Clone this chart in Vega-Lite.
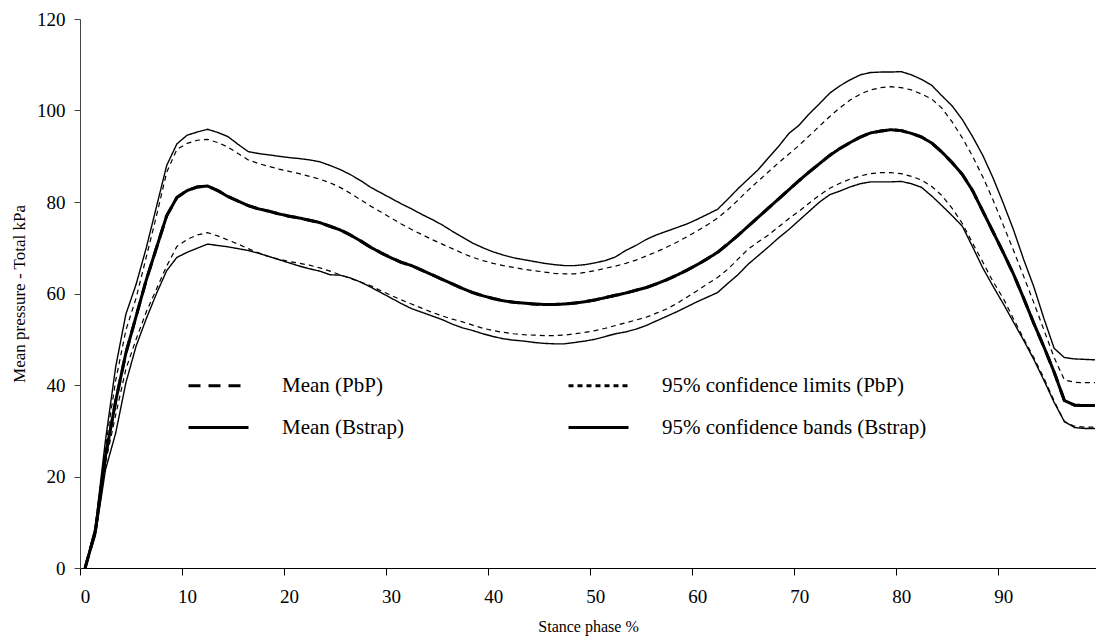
{
"$schema": "https://vega.github.io/schema/vega-lite/v6.json",
"width": 1016, "height": 549,
"autosize": {"type": "none"},
"padding": {"left": 80, "top": 19, "right": 0, "bottom": 74},
"background": "white",
"config": {"font": "Liberation Serif", "view": {"stroke": null},
  "style": {"guide-label": {"font": "Liberation Serif"}, "guide-title": {"font": "Liberation Serif"}},
  "legend": {"labelFont": "Liberation Serif", "titleFont": "Liberation Serif"},
  "axis": {"grid": false, "labelColor": "#000", "titleColor": "#000", "titleFontWeight": "normal", "labelFont": "Liberation Serif", "titleFont": "Liberation Serif"}},
"data": {"values": [
{"p":0,"ub":0,"up":0,"m":0,"mp":0,"lp":0,"lb":0},
{"p":1,"ub":9,"up":8.5,"m":8,"mp":8,"lp":7.5,"lb":7},
{"p":2,"ub":28,"up":26.5,"m":24.5,"mp":24.5,"lp":23,"lb":21.5},
{"p":3,"ub":44,"up":41,"m":36.5,"mp":36.5,"lp":33.5,"lb":29.5},
{"p":4,"ub":55.5,"up":52,"m":47,"mp":47,"lp":43.5,"lb":40.5},
{"p":5,"ub":62,"up":59,"m":55,"mp":55,"lp":50,"lb":48.5},
{"p":6,"ub":70,"up":68,"m":63,"mp":63,"lp":56,"lb":54.5},
{"p":7,"ub":79,"up":77,"m":70,"mp":70,"lp":61,"lb":60},
{"p":8,"ub":88,"up":86.5,"m":77,"mp":77,"lp":66,"lb":65},
{"p":9,"ub":92.7,"up":91.5,"m":81,"mp":81,"lp":70.3,"lb":67.9},
{"p":10,"ub":94.6,"up":92.8,"m":82.5,"mp":82.5,"lp":71.8,"lb":69},
{"p":11,"ub":95.3,"up":93.5,"m":83.3,"mp":83.3,"lp":72.8,"lb":69.9},
{"p":12,"ub":95.9,"up":93.7,"m":83.5,"mp":83.5,"lp":73.3,"lb":70.8},
{"p":13,"ub":95.2,"up":93,"m":82.5,"mp":82.5,"lp":72.6,"lb":70.5},
{"p":14,"ub":94.3,"up":92,"m":81.2,"mp":81.2,"lp":71.7,"lb":70.2},
{"p":15,"ub":92.6,"up":90.6,"m":80.2,"mp":80.2,"lp":70.8,"lb":69.8},
{"p":16,"ub":91,"up":89.2,"m":79.2,"mp":79.2,"lp":69.8,"lb":69.4},
{"p":17,"ub":90.6,"up":88.4,"m":78.5,"mp":78.5,"lp":68.9,"lb":68.8},
{"p":18,"ub":90.3,"up":87.8,"m":78,"mp":78,"lp":68.1,"lb":68.1},
{"p":19,"ub":90,"up":87.2,"m":77.4,"mp":77.4,"lp":67.5,"lb":67.4},
{"p":20,"ub":89.7,"up":86.7,"m":76.9,"mp":76.9,"lp":67,"lb":66.7},
{"p":21,"ub":89.5,"up":86.2,"m":76.5,"mp":76.5,"lp":66.6,"lb":66},
{"p":22,"ub":89.2,"up":85.6,"m":76,"mp":76,"lp":66.2,"lb":65.4},
{"p":23,"ub":88.8,"up":85,"m":75.5,"mp":75.5,"lp":65.6,"lb":64.9},
{"p":24,"ub":88,"up":84.2,"m":74.7,"mp":74.7,"lp":64.9,"lb":64.1},
{"p":25,"ub":87.1,"up":83.2,"m":73.9,"mp":73.9,"lp":64.1,"lb":64},
{"p":26,"ub":86,"up":81.9,"m":72.8,"mp":72.8,"lp":63.3,"lb":63.4},
{"p":27,"ub":84.7,"up":80.5,"m":71.5,"mp":71.5,"lp":62.5,"lb":62.5},
{"p":28,"ub":83.2,"up":79.1,"m":70.1,"mp":70.1,"lp":61.7,"lb":61.4},
{"p":29,"ub":82,"up":77.8,"m":68.9,"mp":68.9,"lp":60.6,"lb":60.2},
{"p":30,"ub":80.8,"up":76.5,"m":67.8,"mp":67.8,"lp":59.6,"lb":59},
{"p":31,"ub":79.6,"up":75.2,"m":66.8,"mp":66.8,"lp":58.6,"lb":57.8},
{"p":32,"ub":78.5,"up":74,"m":66.1,"mp":66.1,"lp":57.7,"lb":56.7},
{"p":33,"ub":77.3,"up":72.9,"m":65.1,"mp":65.1,"lp":56.8,"lb":55.9},
{"p":34,"ub":76.2,"up":71.8,"m":64.1,"mp":64.1,"lp":55.9,"lb":55.1},
{"p":35,"ub":75,"up":70.8,"m":63.1,"mp":63.1,"lp":55.1,"lb":54.3},
{"p":36,"ub":73.6,"up":69.8,"m":62.1,"mp":62.1,"lp":54.4,"lb":53.3},
{"p":37,"ub":72.3,"up":68.8,"m":61.1,"mp":61.1,"lp":53.8,"lb":52.5},
{"p":38,"ub":71,"up":67.9,"m":60.2,"mp":60.2,"lp":53.1,"lb":51.9},
{"p":39,"ub":70,"up":67.2,"m":59.5,"mp":59.5,"lp":52.4,"lb":51.2},
{"p":40,"ub":69.1,"up":66.6,"m":58.9,"mp":58.9,"lp":51.9,"lb":50.6},
{"p":41,"ub":68.4,"up":66.1,"m":58.4,"mp":58.4,"lp":51.5,"lb":50.1},
{"p":42,"ub":67.8,"up":65.7,"m":58.1,"mp":58.1,"lp":51.2,"lb":49.8},
{"p":43,"ub":67.4,"up":65.3,"m":57.9,"mp":57.9,"lp":51,"lb":49.6},
{"p":44,"ub":67,"up":65,"m":57.7,"mp":57.7,"lp":50.9,"lb":49.3},
{"p":45,"ub":66.6,"up":64.7,"m":57.6,"mp":57.6,"lp":50.8,"lb":49.1},
{"p":46,"ub":66.3,"up":64.4,"m":57.6,"mp":57.6,"lp":50.8,"lb":49},
{"p":47,"ub":66.1,"up":64.3,"m":57.7,"mp":57.7,"lp":50.9,"lb":49},
{"p":48,"ub":66.1,"up":64.3,"m":57.9,"mp":57.9,"lp":51.2,"lb":49.3},
{"p":49,"ub":66.3,"up":64.6,"m":58.2,"mp":58.2,"lp":51.5,"lb":49.6},
{"p":50,"ub":66.7,"up":65,"m":58.6,"mp":58.6,"lp":51.9,"lb":50},
{"p":51,"ub":67.2,"up":65.5,"m":59.1,"mp":59.1,"lp":52.4,"lb":50.6},
{"p":52,"ub":68,"up":66,"m":59.6,"mp":59.6,"lp":53,"lb":51.2},
{"p":53,"ub":69.4,"up":66.6,"m":60.1,"mp":60.1,"lp":53.6,"lb":51.6},
{"p":54,"ub":70.5,"up":67.3,"m":60.7,"mp":60.7,"lp":54.2,"lb":52.2},
{"p":55,"ub":71.8,"up":68.2,"m":61.3,"mp":61.3,"lp":54.8,"lb":53},
{"p":56,"ub":72.8,"up":69.1,"m":62.1,"mp":62.1,"lp":55.7,"lb":54},
{"p":57,"ub":73.6,"up":70.1,"m":63,"mp":63,"lp":56.6,"lb":55},
{"p":58,"ub":74.4,"up":71.2,"m":64,"mp":64,"lp":57.8,"lb":56},
{"p":59,"ub":75.2,"up":72.4,"m":65.1,"mp":65.1,"lp":59.2,"lb":57.1},
{"p":60,"ub":76.2,"up":73.7,"m":66.3,"mp":66.3,"lp":60.6,"lb":58.2},
{"p":61,"ub":77.3,"up":75,"m":67.6,"mp":67.6,"lp":62.1,"lb":59.2},
{"p":62,"ub":78.4,"up":76.5,"m":69,"mp":69,"lp":63.5,"lb":60.2},
{"p":63,"ub":80.6,"up":78.3,"m":70.8,"mp":70.8,"lp":65.3,"lb":62.2},
{"p":64,"ub":82.9,"up":80.4,"m":72.7,"mp":72.7,"lp":67.5,"lb":64.1},
{"p":65,"ub":85,"up":82.6,"m":74.7,"mp":74.7,"lp":69.7,"lb":66.4},
{"p":66,"ub":87.1,"up":84.6,"m":76.7,"mp":76.7,"lp":71.3,"lb":68.3},
{"p":67,"ub":89.7,"up":86.6,"m":78.7,"mp":78.7,"lp":72.8,"lb":70.2},
{"p":68,"ub":92.2,"up":88.6,"m":80.7,"mp":80.7,"lp":74.6,"lb":72.2},
{"p":69,"ub":95,"up":90.5,"m":82.7,"mp":82.7,"lp":76.4,"lb":74},
{"p":70,"ub":96.8,"up":92.4,"m":84.7,"mp":84.7,"lp":78,"lb":76},
{"p":71,"ub":99.3,"up":94.5,"m":86.6,"mp":86.6,"lp":79.8,"lb":78},
{"p":72,"ub":101.5,"up":96.6,"m":88.4,"mp":88.4,"lp":81.5,"lb":80},
{"p":73,"ub":103.8,"up":98.7,"m":90.2,"mp":90.2,"lp":83,"lb":81.6},
{"p":74,"ub":105.4,"up":100.6,"m":91.7,"mp":91.7,"lp":84.1,"lb":82.4},
{"p":75,"ub":106.7,"up":102.3,"m":93,"mp":93,"lp":85,"lb":83.3},
{"p":76,"ub":107.8,"up":103.6,"m":94.2,"mp":94.2,"lp":85.7,"lb":84},
{"p":77,"ub":108.3,"up":104.5,"m":95.1,"mp":95.1,"lp":86.2,"lb":84.4},
{"p":78,"ub":108.4,"up":105,"m":95.5,"mp":95.5,"lp":86.4,"lb":84.4},
{"p":79,"ub":108.4,"up":105.2,"m":95.8,"mp":95.8,"lp":86.4,"lb":84.4},
{"p":80,"ub":108.5,"up":105,"m":95.6,"mp":95.6,"lp":86.2,"lb":84.5},
{"p":81,"ub":107.8,"up":104.5,"m":95,"mp":95,"lp":85.6,"lb":84},
{"p":82,"ub":106.8,"up":103.6,"m":94.2,"mp":94.2,"lp":84.8,"lb":83.2},
{"p":83,"ub":105.5,"up":102.5,"m":92.9,"mp":92.9,"lp":83.4,"lb":81.3},
{"p":84,"ub":103.2,"up":100.5,"m":90.9,"mp":90.9,"lp":81.4,"lb":79.2},
{"p":85,"ub":101,"up":97.5,"m":88.6,"mp":88.6,"lp":78.6,"lb":77},
{"p":86,"ub":98,"up":94,"m":86,"mp":86,"lp":75.3,"lb":74.7},
{"p":87,"ub":94.3,"up":90,"m":82.5,"mp":82.5,"lp":71,"lb":70.2},
{"p":88,"ub":90.2,"up":85.5,"m":78,"mp":78,"lp":66.9,"lb":65.6},
{"p":89,"ub":85.3,"up":80.5,"m":73.5,"mp":73.5,"lp":62.6,"lb":61.6},
{"p":90,"ub":79.8,"up":75,"m":69,"mp":69,"lp":59,"lb":57.8},
{"p":91,"ub":74,"up":69.5,"m":64.3,"mp":64.3,"lp":54.5,"lb":53.8},
{"p":92,"ub":67.5,"up":63.8,"m":59,"mp":59,"lp":50.2,"lb":49.8},
{"p":93,"ub":61.5,"up":58,"m":53.5,"mp":53.5,"lp":46,"lb":45.6},
{"p":94,"ub":54.5,"up":52,"m":48.3,"mp":48.3,"lp":41.5,"lb":41},
{"p":95,"ub":48,"up":46,"m":42.8,"mp":42.8,"lp":36.5,"lb":36.2},
{"p":96,"ub":46,"up":41.1,"m":36.6,"mp":36.6,"lp":32,"lb":32},
{"p":97,"ub":45.7,"up":40.6,"m":35.6,"mp":35.6,"lp":31,"lb":30.7},
{"p":98,"ub":45.6,"up":40.5,"m":35.5,"mp":35.5,"lp":30.8,"lb":30.5},
{"p":99,"ub":45.5,"up":40.5,"m":35.5,"mp":35.5,"lp":30.8,"lb":30.5}
]},
"transform": [
  {"fold": ["ub","up","lp","lb","mp","m"], "as": ["k","v"]},
  {"lookup": "k", "from": {"data": {"values": [
    {"k":"ub","s":"95% confidence bands (Bstrap)"},
    {"k":"lb","s":"95% confidence bands (Bstrap)"},
    {"k":"up","s":"95% confidence limits (PbP)"},
    {"k":"lp","s":"95% confidence limits (PbP)"},
    {"k":"m","s":"Mean (Bstrap)"},
    {"k":"mp","s":"Mean (PbP)"}]}, "key": "k", "fields": ["s"]}}
],
"mark": {"type": "line", "strokeJoin": "round"},
"encoding": {
  "x": {"field": "p", "type": "quantitative", "title": "Stance phase %",
    "scale": {"domain": [-0.5, 99.1], "nice": false, "zero": false},
    "axis": {"values": [0,10,20,30,40,50,60,70,80,90], "tickOffset": -5.1, "labelOffset": 5.1, "tickSize": 7, "tickColor": "#000", "domainColor": "#000", "labelFontSize": 19, "labelPadding": 12, "titleFontSize": 16, "titlePadding": 12, "labelFlush": false}},
  "y": {"field": "v", "type": "quantitative", "title": "Mean pressure - Total kPa",
    "scale": {"domain": [0, 120], "nice": false},
    "axis": {"values": [0,20,40,60,80,100,120], "tickSize": 6, "tickColor": "#444", "domainColor": "#444", "labelFontSize": 19, "labelPadding": 9, "titleFontSize": 17, "titlePadding": 8}},
  "detail": {"field": "k"},
  "color": {"field": "s", "type": "nominal", "title": null,
    "scale": {"domain": ["Mean (PbP)", "Mean (Bstrap)", "95% confidence limits (PbP)", "95% confidence bands (Bstrap)"], "range": ["#000000", "#000000", "#000000", "#000000"]},
    "legend": {"title": null, "orient": "none", "legendX": 107, "legendY": 335, "columns": 2, "columnPadding": 158, "rowPadding": 0,
      "symbolType": "stroke", "symbolSize": 3600, "symbolStrokeWidth": 2.8, "labelFont": "Liberation Serif", "labelFontSize": 21, "labelColor": "#000", "labelOffset": 32, "labelLimit": 500}},
  "strokeDash": {"field": "s", "type": "nominal", "title": null,
    "scale": {"domain": ["Mean (PbP)", "Mean (Bstrap)", "95% confidence limits (PbP)", "95% confidence bands (Bstrap)"], "range": [[12,8],[1,0],[5,4],[1,0]]},
    "legend": {"title": null, "orient": "none", "legendX": 107, "legendY": 335, "columns": 2, "columnPadding": 158, "rowPadding": 0,
      "symbolType": "stroke", "symbolSize": 3600, "symbolStrokeWidth": 2.8, "labelFont": "Liberation Serif", "labelFontSize": 21, "labelColor": "#000", "labelOffset": 32, "labelLimit": 500}},
  "strokeWidth": {"condition": [
      {"test": "datum.s === 'Mean (Bstrap)' || datum.s === 'Mean (PbP)'", "value": 3},
      {"test": "datum.s === '95% confidence bands (Bstrap)'", "value": 1.4}],
    "value": 1.2}
}
}
